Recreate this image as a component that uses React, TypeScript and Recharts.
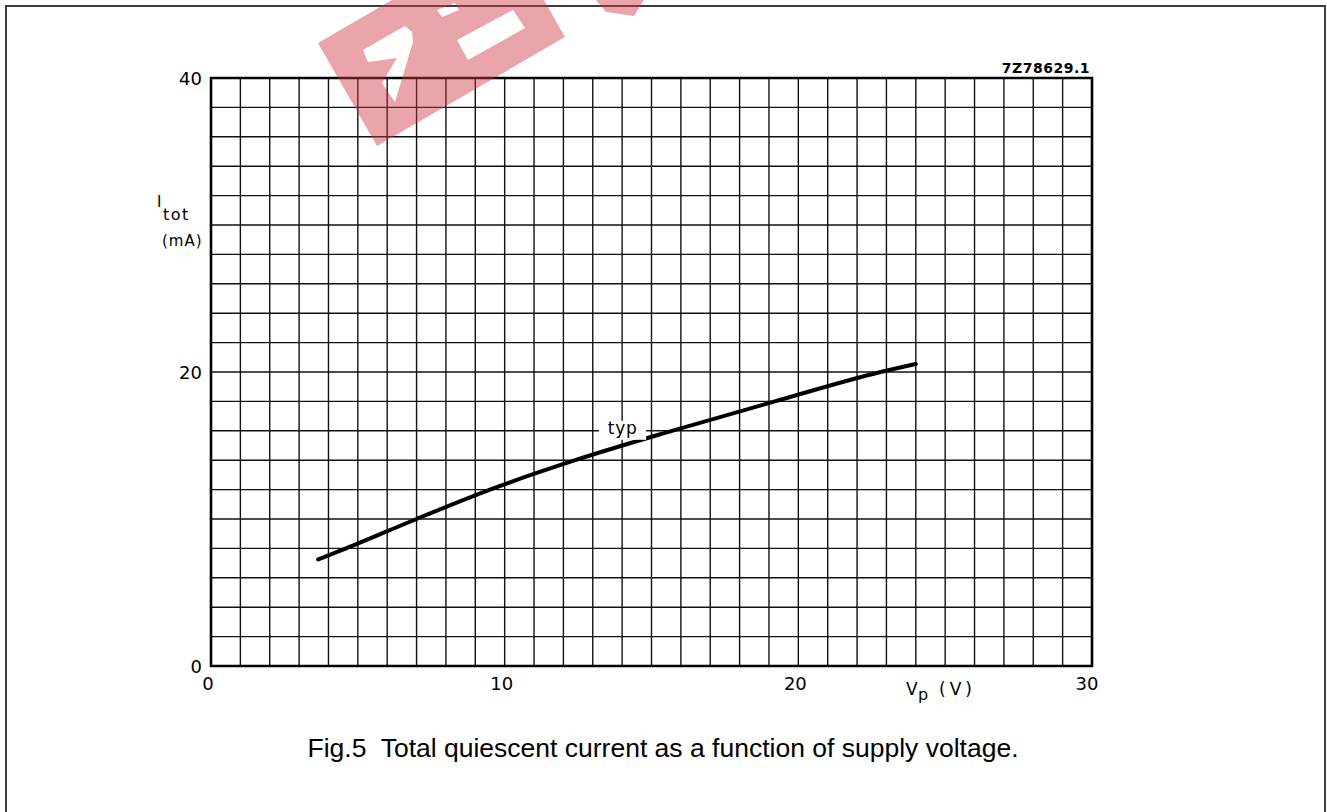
import React from 'react';
import { LineChart, Line, XAxis, YAxis, CartesianGrid, ReferenceArea, ReferenceDot } from 'recharts';

// typ curve
const supplyVoltage = [3.65, 4.6, 7.0, 9.5, 12.4, 15.7, 19.2, 22.8, 24.0];
const quiescentCurrent = [7.25, 8.0, 10.0, 12.0, 14.0, 16.0, 18.0, 20.0, 20.55];

// grid every 1 V and every 2 mA, labels only on the majors
const xGridTicks = [0, 1, 2, 3, 4, 5, 6, 7, 8, 9, 10, 11, 12, 13, 14, 15, 16, 17, 18, 19, 20, 21, 22, 23, 24, 25, 26, 27, 28, 29, 30];
const yGridTicks = [0, 2, 4, 6, 8, 10, 12, 14, 16, 18, 20, 22, 24, 26, 28, 30, 32, 34, 36, 38, 40];
const xTickLabels = [0, 10, 20, 30];
const yTickLabels = [0, 20, 40];

const curveName = 'typ';
const figCode = '7Z78629.1';
const caption = 'Fig.5  Total quiescent current as a function of supply voltage.';

const data = supplyVoltage.map((v, i) => ({ vp: v, itot: quiescentCurrent[i] }));

const tickFont = { fontFamily: 'DejaVu Sans', fontSize: 18, fill: '#000' };

const XTick = (props: any) => {
  const { x, y, payload } = props;
  if (!xTickLabels.includes(payload.value)) return <g />;
  const dx = payload.value === 30 ? -5 : -3;
  return (
    <text x={x + dx} y={y + 24} textAnchor="middle" {...tickFont}>{payload.value}</text>
  );
};

const YTick = (props: any) => {
  const { x, y, payload } = props;
  if (!yTickLabels.includes(payload.value)) return <g />;
  return (
    <text x={x - 9} y={y + 6.5} textAnchor="end" {...tickFont}>{payload.value}</text>
  );
};

const TypLabel = (props: any) => {
  const { cx, cy } = props;
  return (
    <g>
      <rect x={cx - 23} y={cy - 10} width={47} height={19} fill="#fff" />
      <text x={cx + 0.5} y={cy + 3} textAnchor="middle" fontFamily="DejaVu Sans" fontSize={17} letterSpacing={0.8} fill="#000">{curveName}</text>
    </g>
  );
};

export default function App() {
  return (
    <div style={{ position: 'absolute', left: 0, top: 0, width: 1327, height: 812, background: '#fff', overflow: 'hidden' }}>
      <div style={{ position: 'absolute', left: 5, top: 5, width: 1317, height: 900, border: '2px solid #3c3c3c' }} />
      <div style={{ position: 'absolute', left: 0, top: 0 }}>
        <LineChart width={1327} height={812} data={data} margin={{ top: 78, right: 235, bottom: 116, left: 151 }}>
          <CartesianGrid stroke="#111" strokeWidth={1.4} />
          <XAxis type="number" dataKey="vp" domain={[0, 30]} ticks={xGridTicks} interval={0} tickSize={0} tickMargin={0}
            axisLine={false} tickLine={false} height={30} tick={XTick} allowDataOverflow />
          <YAxis type="number" domain={[0, 40]} ticks={yGridTicks} interval={0} tickSize={0} tickMargin={0}
            axisLine={false} tickLine={false} width={60} tick={YTick} allowDataOverflow />
          <ReferenceArea x1={0} x2={30} y1={0} y2={40} fill="none" fillOpacity={0} stroke="#000" strokeWidth={2.6} />
          <Line type="monotone" dataKey="itot" stroke="#000" strokeWidth={4} dot={false} strokeLinecap="round" isAnimationActive={false} />
          <ReferenceDot x={14} y={16} r={0} shape={TypLabel} />
        </LineChart>
      </div>
      <svg width={1327} height={812} style={{ position: 'absolute', left: 0, top: 0, pointerEvents: 'none' }}>
        <text x={1090} y={73} textAnchor="end" fontFamily="DejaVu Sans" fontWeight="bold" fontSize={14} letterSpacing={0.5}>{figCode}</text>
        <text x={157} y={207} fontFamily="DejaVu Sans" fontSize={15}>I</text>
        <text x={163} y={220} fontFamily="DejaVu Sans" fontSize={16} letterSpacing={1.5}>tot</text>
        <text x={162} y={246} fontFamily="DejaVu Sans" fontSize={15} letterSpacing={1}>(mA)</text>
        <text x={906} y={695} fontFamily="DejaVu Sans" fontSize={17}>V</text>
        <text x={918} y={700} fontFamily="DejaVu Sans" fontSize={16}>p</text>
        <text x={939} y={695} fontFamily="DejaVu Sans" fontSize={17} letterSpacing={4}>(V)</text>
        <text x={663} y={757} textAnchor="middle" fontFamily="'Liberation Sans', Arial, sans-serif" fontSize={26.5} style={{ whiteSpace: 'pre' }}>{caption}</text>
        <path
          fillRule="evenodd"
          fill="rgb(206,55,67)"
          fillOpacity={0.45}
          d="M318,43 L392,0 L544,0 L565,37 L377,146 Z
             M457,40 L513,10 L525,28 L468,60 Z
             M363,50 L405,26 L412,32 L413,42 L395,102 L382,83 L397,58 L368,62 Z
             M437,10 L455,3 L459,10 L442,17 Z"
        />
        <path fill="rgb(206,55,67)" fillOpacity={0.45} d="M596,0 L644,0 L634,16 L606,12 Z" />
      </svg>
    </div>
  );
}
